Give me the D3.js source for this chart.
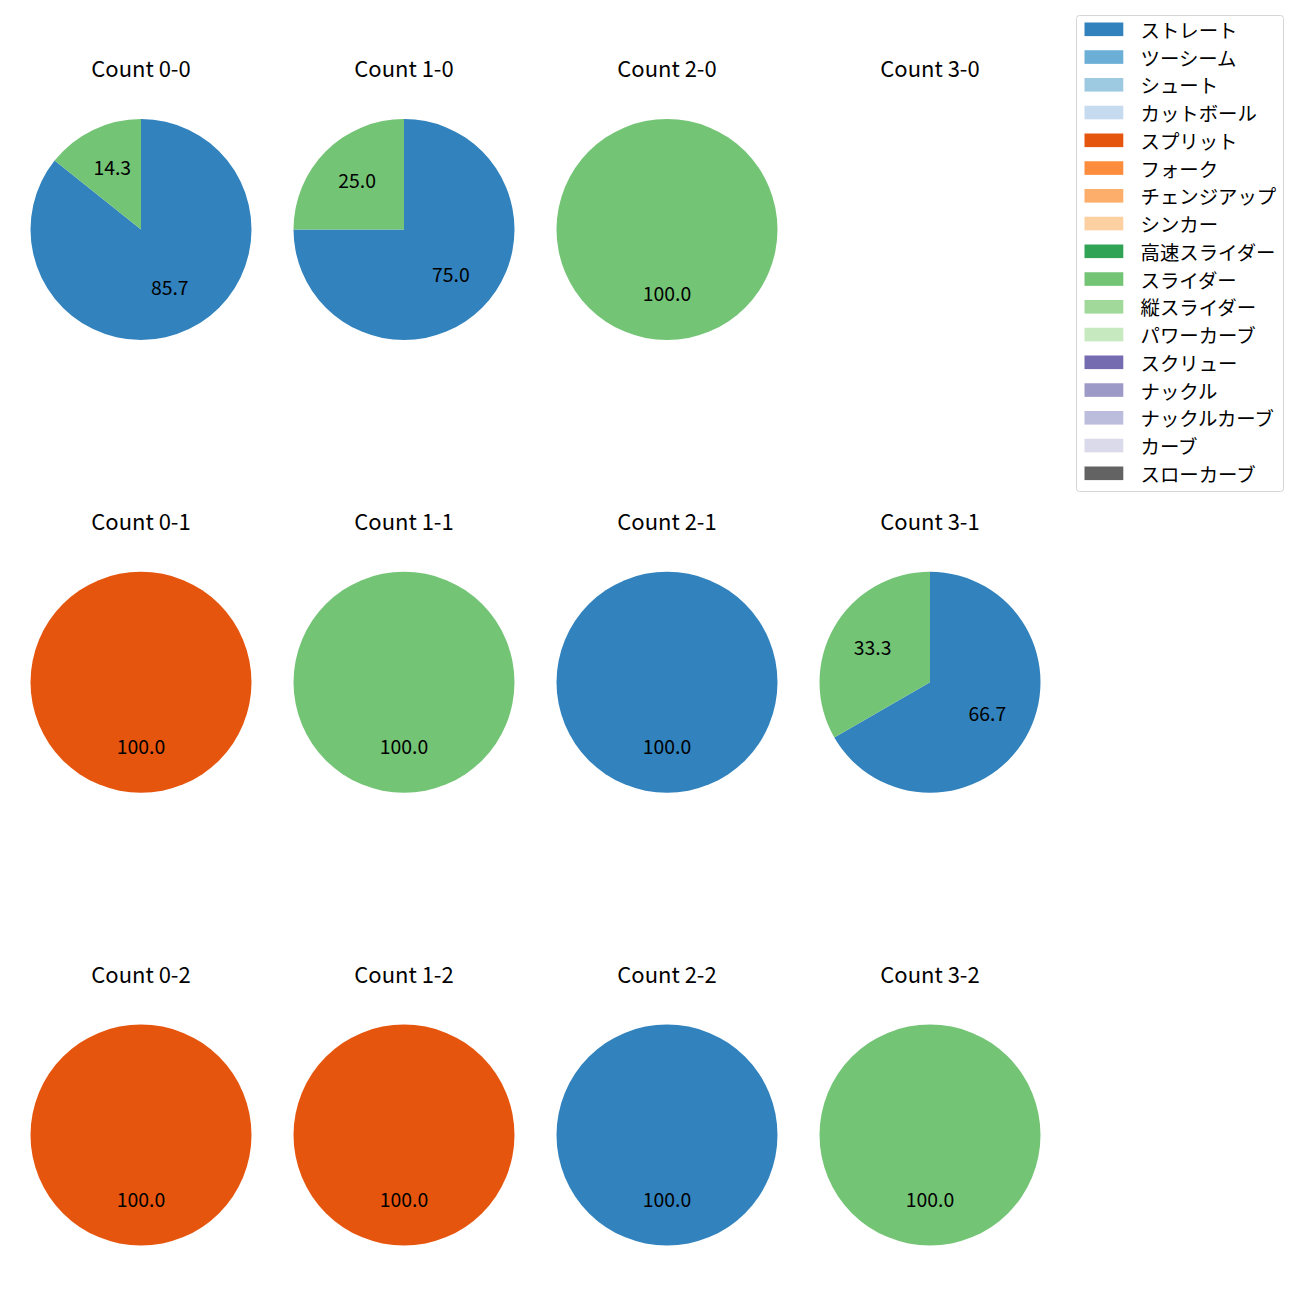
<!DOCTYPE html>
<html>
<head>
<meta charset="utf-8">
<script src="https://cdn.jsdelivr.net/npm/d3@7"></script>
<style>
  html, body { margin: 0; padding: 0; background: #fff; }
  svg text { font-family: "Noto Sans CJK JP", "Noto Sans", sans-serif; fill: #000; }
</style>
</head>
<body>
<svg id="chart" width="1300" height="1300"></svg>
<script>
// ---- data ----
const pitchTypes = ["ストレート","ツーシーム","シュート","カットボール","スプリット","フォーク","チェンジアップ","シンカー","高速スライダー","スライダー","縦スライダー","パワーカーブ","スクリュー","ナックル","ナックルカーブ","カーブ","スローカーブ"];
const pitchColors = ["#3182bd","#6baed6","#9ecae1","#c6dbef","#e6550d","#fd8d3c","#fdae6b","#fdd0a2","#31a354","#74c476","#a1d99b","#c7e9c0","#756bb1","#9e9ac8","#bcbddc","#dadaeb","#636363"];
const countLabels = ["0-0","1-0","2-0","3-0","0-1","1-1","2-1","3-1","0-2","1-2","2-2","3-2"];
// pitch counts per count situation (same order as countLabels)
const straightValues = [6,3,0,0, 0,0,1,2, 0,0,1,0];
const splitValues    = [0,0,0,0, 1,0,0,0, 1,1,0,0];
const sliderValues   = [1,1,1,0, 0,1,0,1, 0,0,0,1];
const seriesByType = { "ストレート": straightValues, "スプリット": splitValues, "スライダー": sliderValues };

// ---- layout ----
const svg = d3.select("#chart");
const colX = d3.scalePoint().domain([0,1,2,3]).range([141, 930]);
const rowY = d3.scalePoint().domain([0,1,2]).range([229.5, 1135]);
const radius = 110.5;
const color = d3.scaleOrdinal().domain(pitchTypes).range(pitchColors);

const pie = d3.pie().sort(null).value(d => d.value);
const arc = d3.arc().innerRadius(0).outerRadius(radius);
const labelArc = d3.arc().innerRadius(radius * 0.6).outerRadius(radius * 0.6);

countLabels.forEach((cl, i) => {
  const col = i % 4, row = Math.floor(i / 4);
  const cx = colX(col), cy = rowY(row);
  const g = svg.append("g").attr("transform", `translate(${cx},${cy})`);
  g.append("text")
    .attr("x", 0).attr("y", -152.5)
    .attr("text-anchor", "middle")
    .style("font-size", "22px")
    .text("Count " + cl);
  const data = pitchTypes
    .map(t => ({ type: t, value: seriesByType[t] ? seriesByType[t][i] : 0 }))
    .filter(d => d.value > 0);
  if (!data.length) return;
  const total = d3.sum(data, d => d.value);
  const arcs = pie(data);
  g.selectAll("path.w").data(arcs).enter().append("path")
    .attr("class", "w")
    .attr("d", arc)
    .attr("fill", d => color(d.data.type));
  g.selectAll("text.l").data(arcs).enter().append("text")
    .attr("class", "l")
    .attr("transform", d => `translate(${labelArc.centroid(d)})`)
    .attr("y", 5.5)
    .attr("text-anchor", "middle")
    .style("font-size", "19.4px")
    .text(d => (d.data.value / total * 100).toFixed(1));
});

// ---- legend ----
const legend = svg.append("g").attr("transform", "translate(1076,15)");
legend.append("rect")
  .attr("x", 0.5).attr("y", 0.5).attr("width", 207).attr("height", 476)
  .attr("rx", 3).attr("ry", 3)
  .attr("fill", "#fff").attr("stroke", "#d5d5d5").attr("stroke-width", 1);
const legY = d3.scalePoint().domain(pitchTypes).range([14.3, 458.3]);
const items = legend.selectAll("g.item").data(pitchTypes).enter().append("g")
  .attr("class", "item")
  .attr("transform", d => `translate(0,${legY(d)})`);
items.append("rect")
  .attr("x", 8.5).attr("y", -6.8).attr("width", 38.8).attr("height", 13.6)
  .attr("fill", d => color(d));
items.append("text")
  .attr("x", 64.5).attr("y", 0)
  .attr("dominant-baseline", "central")
  .style("font-size", "19.4px")
  .text(d => d);
</script>
</body>
</html>
